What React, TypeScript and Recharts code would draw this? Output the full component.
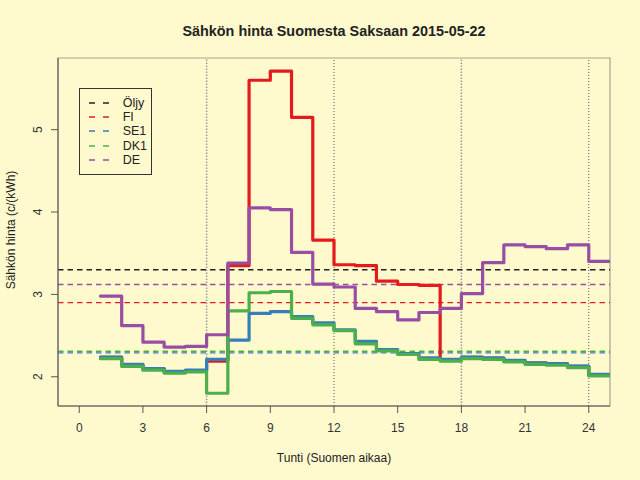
import { LineChart, Line, XAxis, YAxis, ReferenceLine, ReferenceArea, Legend } from 'recharts';

const BG = '#FFFACD';
const FONT = '"Liberation Sans", Arial, Helvetica, sans-serif';

// hour of day (the step for hour h is drawn from h to h+1, last point closes the day)
const HOURS = [1, 2, 3, 4, 5, 6, 7, 8, 9, 10, 11, 12, 13, 14, 15, 16, 17, 18, 19, 20, 21, 22, 23, 24, 25];

// prices c/kWh
const FI = [2.235, 2.145, 2.095, 2.055, 2.075, 2.19, 3.35, 5.6, 5.71, 5.15, 3.66, 3.36, 3.35, 3.16, 3.12, 3.11, 2.205, 2.235, 2.225, 2.195, 2.165, 2.155, 2.125, 2.025, 2.025];
const SE1 = [2.24, 2.15, 2.1, 2.065, 2.08, 2.21, 2.445, 2.77, 2.79, 2.73, 2.655, 2.57, 2.43, 2.33, 2.28, 2.23, 2.21, 2.24, 2.23, 2.2, 2.17, 2.16, 2.13, 2.03, 2.03];
const DK1 = [2.22, 2.125, 2.08, 2.045, 2.06, 1.8, 2.8, 3.02, 3.035, 2.71, 2.63, 2.56, 2.4, 2.315, 2.27, 2.21, 2.19, 2.22, 2.21, 2.18, 2.15, 2.14, 2.11, 2.01, 2.01];
const DE = [2.98, 2.62, 2.42, 2.36, 2.37, 2.51, 3.38, 4.05, 4.03, 3.51, 3.125, 3.09, 2.83, 2.79, 2.69, 2.78, 2.83, 3.01, 3.385, 3.6, 3.58, 3.555, 3.6, 3.4, 3.4];

// horizontal reference levels (oil + daily averages)
const LEVEL_NAMES = ['Öljy', 'FI', 'SE1', 'DK1', 'DE'];
const LEVELS = [3.3, 2.9, 2.29, 2.31, 3.12];

const X_TICKS = [0, 3, 6, 9, 12, 15, 18, 21, 24];
const Y_TICKS = [2, 3, 4, 5];
const DAY_MARKS = [6, 12, 18, 24];

const COLORS: Record<string, string> = {
    'Öljy': '#222222',
    FI: '#E41A1C',
    SE1: '#377EB8',
    DK1: '#4DAF4A',
    DE: '#984EA3',
};

const SERIES = ['FI', 'SE1', 'DK1', 'DE'];

const rows = HOURS.map((hour, i) => ({ hour, FI: FI[i], SE1: SE1[i], DK1: DK1[i], DE: DE[i] }));

const XTick = ({ x, y, payload }: any) => (
    <text x={x} y={y + 13} textAnchor="middle" dominantBaseline="central" fontSize={12} fill="#333" fontFamily={FONT}>
        {payload.value}
    </text>
);

const YTick = ({ x, y, payload }: any) => (
    <text
        x={x - 11}
        y={y}
        transform={`rotate(-90, ${x - 11}, ${y})`}
        textAnchor="middle"
        dominantBaseline="central"
        fontSize={12}
        fill="#333"
        fontFamily={FONT}
    >
        {payload.value}
    </text>
);

const LegendBox = () => (
    <div
        style={{
            border: '1px solid #333',
            width: 73,
            height: 87,
            boxSizing: 'border-box',
            paddingTop: 6.5,
            fontFamily: FONT,
            fontSize: 12.5,
            color: '#222',
        }}
    >
        {LEVEL_NAMES.map((name) => (
            <div key={name} style={{ display: 'flex', alignItems: 'center', height: 14.4 }}>
                <svg width={20} height={4} style={{ marginLeft: 9.3, marginRight: 13.4 }}>
                    <line x1={0} y1={2} x2={20} y2={2} stroke={COLORS[name]} strokeWidth={1.5} strokeDasharray="6 8" />
                </svg>
                <span style={{ lineHeight: '14px' }}>{name}</span>
            </div>
        ))}
    </div>
);

export default function App() {
    return (
        <div style={{ position: 'relative', width: 640, height: 480, background: BG, fontFamily: FONT }}>
            <style>{`body{margin:0;background:${BG};}`}</style>
            <LineChart width={640} height={480} data={rows} margin={{ top: 58, right: 30, bottom: 44, left: 0 }}>
                <ReferenceArea x1={-1} x2={25} y1={1.645} y2={5.87} fill="none" stroke="#a8a38c" strokeWidth={1.2} />
                <XAxis
                    dataKey="hour"
                    type="number"
                    domain={[-1, 25]}
                    ticks={X_TICKS}
                    allowDataOverflow
                    height={30}
                    tickSize={7}
                    tick={<XTick />}
                    axisLine={{ stroke: '#555', strokeWidth: 1.2 }}
                    tickLine={{ stroke: '#555' }}
                />
                <YAxis
                    type="number"
                    domain={[1.645, 5.87]}
                    ticks={Y_TICKS}
                    allowDataOverflow
                    width={58}
                    tickSize={7}
                    tick={<YTick />}
                    axisLine={{ stroke: '#666', strokeWidth: 1.2 }}
                    tickLine={{ stroke: '#555' }}
                />
                {DAY_MARKS.map((h) => (
                    <ReferenceLine
                        key={`v${h}`}
                        x={h}
                        stroke={h % 12 === 0 ? '#555' : '#999'}
                        strokeWidth={h % 12 === 0 ? 1 : 1.5}
                        strokeDasharray={h % 12 === 0 ? '1 2' : '1.5 1.5'}
                    />
                ))}
                {LEVEL_NAMES.map((name, i) => (
                    <ReferenceLine key={name} y={LEVELS[i]} stroke={COLORS[name]} strokeWidth={1.4} strokeDasharray="5.5 4" />
                ))}
                {SERIES.map((name) => (
                    <Line
                        key={name}
                        dataKey={name}
                        type="stepAfter"
                        stroke={COLORS[name]}
                        strokeWidth={3.2}
                        strokeLinecap="round"
                        strokeLinejoin="round"
                        dot={false}
                        activeDot={false}
                        isAnimationActive={false}
                    />
                ))}
                <Legend
                    layout="vertical"
                    align="center"
                    verticalAlign="middle"
                    content={<LegendBox />}
                    wrapperStyle={{ left: 79, top: 88, width: 74, height: 87 }}
                />
            </LineChart>
            <svg width={640} height={480} style={{ position: 'absolute', left: 0, top: 0, pointerEvents: 'none' }}>
                <text x={334} y={31} textAnchor="middle" dominantBaseline="central" fontSize={14.4} fontWeight="bold" fill="#222" fontFamily={FONT}>
                    Sähkön hinta Suomesta Saksaan 2015-05-22
                </text>
                <text x={334} y={458} textAnchor="middle" dominantBaseline="central" fontSize={12} fill="#222" fontFamily={FONT}>
                    Tunti (Suomen aikaa)
                </text>
                <text
                    x={11}
                    y={230}
                    transform="rotate(-90, 11, 230)"
                    textAnchor="middle"
                    dominantBaseline="central"
                    fontSize={12}
                    fill="#222"
                    fontFamily={FONT}
                >
                    Sähkön hinta (c/(kWh)
                </text>
            </svg>
        </div>
    );
}
